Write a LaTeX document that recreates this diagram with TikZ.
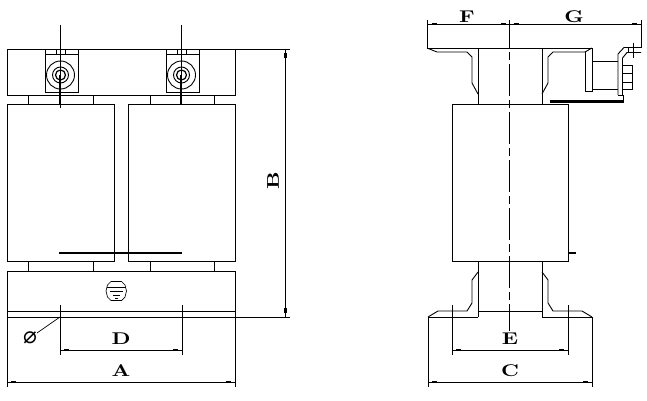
\documentclass[tikz,border=0pt]{standalone}
\usepackage{fontspec}
\newfontfamily\symfont{DejaVu Sans}
\usetikzlibrary{calc}
\tikzset{
  part/.style={line width=0.9pt},
  thin line/.style={line width=0.7pt},
  heavy/.style={line width=1.8pt},
  dimlabel/.style={inner sep=0pt},
}
\newcommand{\dimtext}[1]{\scalebox{2.15}[1.7]{\bfseries #1}}
\newcommand{\dimline}[2]{
  \draw[thin line] (#1) -- (#2);
  \draw[line width=2.2pt] ($(#1)!4pt!(#2)$) -- ($(#1)!9pt!(#2)$);
  \draw[line width=2.2pt] ($(#2)!4pt!(#1)$) -- ($(#2)!9pt!(#1)$);
}
\begin{document}
\begin{tikzpicture}[x=1pt,y=-1pt,part]
\useasboundingbox (0,0) rectangle (647,401);

% front view
\draw (7,49) rectangle (235,95);
\draw (7,104) rectangle (114,261);
\draw (128,104) rectangle (235,261);
\draw (7,271) rectangle (235,317);
\draw (7,311) -- (235,311);
\foreach \xa/\xb in {28/93,150/214} {
  \draw (\xa,95) rectangle (\xb,104);
  \draw (\xa,261) rectangle (\xb,271);
}

% terminals
\foreach \xc in {60,181} {
  \draw ($(\xc,49)+(-15,0)$) rectangle ($(\xc,92)+(18,0)$);
  \draw ($(\xc,54)+(-15,0)$) -- ($(\xc,54)+(18,0)$);
  \draw ($(\xc,49)+(-4,0)$) -- ($(\xc,54)+(-4,0)$);
  \draw ($(\xc,49)+(5,0)$) -- ($(\xc,54)+(5,0)$);
  \draw (\xc.5,75) circle (14);
  \draw (\xc.5,75) circle (8);
  \draw[line width=1.2pt] (\xc.5,75) circle (5);
  \draw[thin line] (\xc,25) -- (\xc,75);
  \draw[heavy] (\xc,75) -- (\xc,104);
}
\draw[thin line] (60,104) -- (60,108);
\draw[heavy] (59,253) -- (182,253);

% ground mark
\draw[thin line] (111,281.5) -- (121.5,281.5) -- (125,285) -- (126.5,291) -- (125,297) -- (121.5,300.5)
  -- (111,300.5) -- (107.5,297) -- (106,291) -- (107.5,285) -- cycle;
\draw[thin line] (107,287.5) -- (126,287.5);
\draw[thin line] (110,291) -- (123,291);
\draw[thin line] (113,295) -- (120,295);
\draw[thin line] (115,298.5) -- (118,298.5);

% front view dimensions
\draw[thin line] (235,49) -- (290,49);
\draw[thin line] (235,317) -- (290,317);
\coordinate (Btop) at (285.5,49);
\coordinate (Bbot) at (285.5,317);
\dimline{Btop}{Bbot}
\node[dimlabel, rotate=90] (labB) at (273,181) {\dimtext{B}};

\draw[thin line] (60,305) -- (60,355);
\draw[thin line] (182,305) -- (182,355);
\coordinate (Dl) at (60,350);
\coordinate (Dr) at (182,350);
\dimline{Dl}{Dr}
\node[dimlabel] (labD) at (121,339) {\dimtext{D}};

\draw[thin line] (7,317) -- (7,387);
\draw[thin line] (235,317) -- (235,387);
\coordinate (Al) at (7,382);
\coordinate (Ar) at (235,382);
\dimline{Al}{Ar}
\node[dimlabel] (labA) at (121,371) {\dimtext{A}};

\node[inner sep=0pt] (dia) at (30,338) {\scalebox{2.3}{\symfont ⌀}};
\coordinate (diaend) at (60,317);
\draw[thin line] (37,333) -- (diaend);

% side view
\draw (427,48) -- (592,48);
\draw (478,48) -- (478,104);
\draw (542,48) -- (542,104);
\draw (452,104) rectangle (568,261);
\draw (427,48) -- (437,52) -- (467,52) -- (472,57) -- (472,83) -- (478,94);
\draw (542,94) -- (548,83) -- (548,57) -- (553,52) -- (585,52) -- (592,48);
\draw (585,52) -- (585,91) -- (592,91) -- (592,48);
\draw (592,61) -- (618,61);
\draw (592,89) -- (618,89);
\draw (618,95) -- (618,54) -- (624,47.5) -- (641,47.5);
\draw (622.5,96) -- (622.5,58) -- (627,52.5) -- (641,52.5);
\draw (618,95) -- (622.5,95);
\draw (622.5,65) rectangle (632,89);
\draw (622.5,73) -- (632,73);
\draw (622.5,82) -- (632,82);
\draw[thin line] (633,43) -- (633,58);
\draw[thin line] (628,47) -- (628,53);
\draw[thin line] (550,101) -- (550,100) -- (623.5,100) -- (623.5,95);
\draw[line width=1.1pt] (550,102) -- (624,102);

\draw (478,261) -- (478,317);
\draw (542,261) -- (542,317);
\draw (478,311) -- (542,311);
\draw (478,272) -- (472,280) -- (472,303) -- (467,311) -- (438,311) -- (428,317);
\draw (542,272) -- (548,280) -- (548,303) -- (553,311) -- (582,311) -- (592,317);
\draw (428,317) -- (478,317);
\draw (542,317) -- (592,317);
\draw[heavy] (568,253) -- (576,253);
\draw[thin line, dash pattern=on 8pt off 4pt on 32pt off 4pt] (509.5,52) -- (509.5,331);

% side view dimensions
\draw[thin line] (427.5,20) -- (427.5,48);
\draw[thin line] (509.5,20) -- (509.5,48);
\draw[thin line] (641,20) -- (641,48);
\coordinate (Fl) at (427.5,24);
\coordinate (Fr) at (509.5,24);
\coordinate (Gr) at (641,24);
\dimline{Fl}{Fr}
\dimline{Fr}{Gr}
\node[dimlabel] (labF) at (467,17) {\dimtext{F}};
\node[dimlabel] (labG) at (574,17) {\dimtext{G}};

\draw[thin line] (452,305) -- (452,355);
\draw[thin line] (568,305) -- (568,355);
\coordinate (El) at (452,350);
\coordinate (Er) at (568,350);
\dimline{El}{Er}
\node[dimlabel] (labE) at (510,339) {\dimtext{E}};

\draw[thin line] (428,317) -- (428,387);
\draw[thin line] (592,317) -- (592,387);
\coordinate (Cl) at (428,382);
\coordinate (Cr) at (592,382);
\dimline{Cl}{Cr}
\node[dimlabel] (labC) at (510,371) {\dimtext{C}};
\end{tikzpicture}
\end{document}
